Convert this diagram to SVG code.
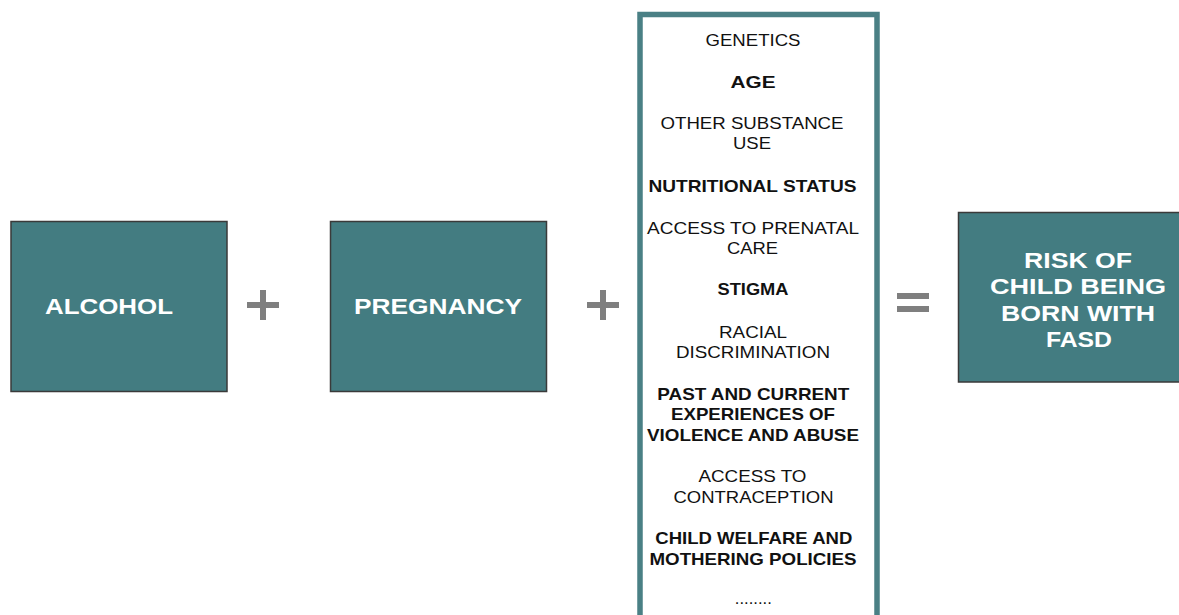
<svg xmlns="http://www.w3.org/2000/svg" width="1179" height="615" viewBox="0 0 1179 615">
<style>
.box{fill:#437c81;stroke:#3a3a3a;stroke-width:1.5}
.bt{font-family:"Liberation Sans",Arial,sans-serif;font-weight:bold;font-size:22px;fill:#fff;text-anchor:middle}
.lt{font-family:"Liberation Sans",Arial,sans-serif;font-size:17px;fill:#111;text-anchor:middle}
.b{font-weight:bold}
.op{fill:#7f7f7f}
</style>
<rect width="1179" height="615" fill="#fff"/>
<g id="connectors">
<g id="plus1"><rect class="op" x="247" y="302" width="32" height="6"/><rect class="op" x="260" y="290" width="6" height="30"/></g>
<g id="plus2"><rect class="op" x="587" y="302" width="32" height="6"/><rect class="op" x="600" y="290" width="6" height="30"/></g>
<g id="equals"><rect class="op" x="897" y="293" width="32" height="6"/><rect class="op" x="897" y="306" width="32" height="6"/></g>
</g>
<g id="alcohol">
<rect class="box" x="11" y="221.5" width="216" height="170"/>
<text class="bt" x="109" y="314" textLength="128" lengthAdjust="spacingAndGlyphs">ALCOHOL</text>
</g>
<g id="pregnancy">
<rect class="box" x="330.5" y="221.5" width="216" height="170"/>
<text class="bt" x="438" y="314" textLength="168" lengthAdjust="spacingAndGlyphs">PREGNANCY</text>
</g>
<g id="factors">
<rect x="640" y="14.5" width="237" height="620" fill="#fff" stroke="#4a8085" stroke-width="5.5"/>
<text class="lt" x="753" y="46" textLength="95" lengthAdjust="spacingAndGlyphs">GENETICS</text>
<text class="lt b" x="753" y="88" textLength="45" lengthAdjust="spacingAndGlyphs">AGE</text>
<text class="lt" x="752" y="128.5" textLength="183" lengthAdjust="spacingAndGlyphs">OTHER SUBSTANCE</text>
<text class="lt" x="752" y="148.5" textLength="38" lengthAdjust="spacingAndGlyphs">USE</text>
<text class="lt b" x="752.5" y="191.5" textLength="208" lengthAdjust="spacingAndGlyphs">NUTRITIONAL STATUS</text>
<text class="lt" x="753" y="233.5" textLength="212" lengthAdjust="spacingAndGlyphs">ACCESS TO PRENATAL</text>
<text class="lt" x="752.5" y="254" textLength="51" lengthAdjust="spacingAndGlyphs">CARE</text>
<text class="lt b" x="753" y="295" textLength="71" lengthAdjust="spacingAndGlyphs">STIGMA</text>
<text class="lt" x="753" y="337.5" textLength="68" lengthAdjust="spacingAndGlyphs">RACIAL</text>
<text class="lt" x="753" y="358" textLength="154" lengthAdjust="spacingAndGlyphs">DISCRIMINATION</text>
<text class="lt b" x="753.3" y="399.5" textLength="192" lengthAdjust="spacingAndGlyphs">PAST AND CURRENT</text>
<text class="lt b" x="753" y="419.5" textLength="164" lengthAdjust="spacingAndGlyphs">EXPERIENCES OF</text>
<text class="lt b" x="753" y="440.5" textLength="212" lengthAdjust="spacingAndGlyphs">VIOLENCE AND ABUSE</text>
<text class="lt" x="752.5" y="481.5" textLength="108" lengthAdjust="spacingAndGlyphs">ACCESS TO</text>
<text class="lt" x="753.5" y="502.5" textLength="160" lengthAdjust="spacingAndGlyphs">CONTRACEPTION</text>
<text class="lt b" x="753.8" y="544" textLength="197" lengthAdjust="spacingAndGlyphs">CHILD WELFARE AND</text>
<text class="lt b" x="753" y="565" textLength="207" lengthAdjust="spacingAndGlyphs">MOTHERING POLICIES</text>
<text class="lt" x="753.3" y="603.5" textLength="37" lengthAdjust="spacingAndGlyphs">........</text>
</g>
<g id="risk">
<rect class="box" x="958.5" y="212.5" width="240" height="169.5"/>
<text class="bt" x="1078" y="268" textLength="108" lengthAdjust="spacingAndGlyphs">RISK OF</text>
<text class="bt" x="1078" y="294" textLength="176" lengthAdjust="spacingAndGlyphs">CHILD BEING</text>
<text class="bt" x="1078" y="320.5" textLength="154" lengthAdjust="spacingAndGlyphs">BORN WITH</text>
<text class="bt" x="1079" y="347" textLength="66" lengthAdjust="spacingAndGlyphs">FASD</text>
</g>
</svg>
